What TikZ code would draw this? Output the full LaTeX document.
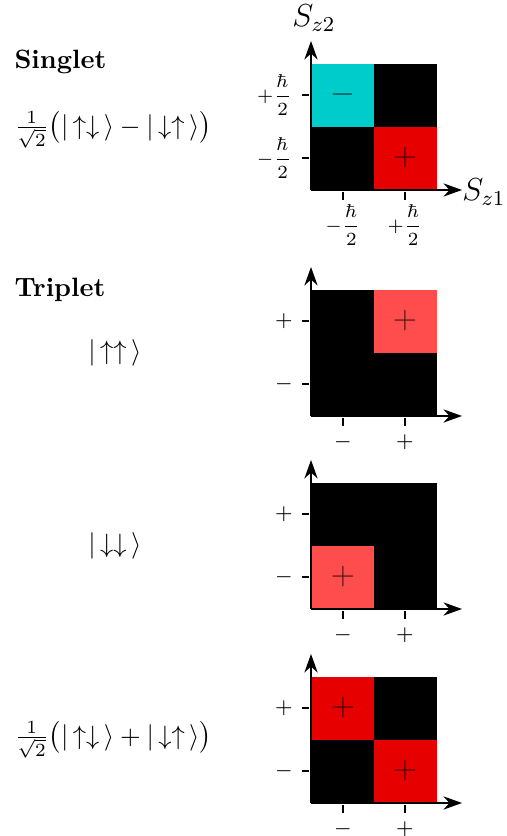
\documentclass[tikz,border=0pt]{standalone}
\usepackage{amsmath}
\usetikzlibrary{arrows.meta}
\definecolor{cellcyan}{RGB}{0,204,204}
\definecolor{cellred}{RGB}{230,0,0}
\definecolor{celllight}{RGB}{255,76,76}
\tikzset{
  axis/.style={line width=0.6pt,-{Stealth[length=7pt,width=5pt]}},
  tick/.style={line width=0.6pt},
  celltext/.style={text=black, text opacity=0.7, font=\large},
  ticklabel/.style={inner sep=1pt, font=\footnotesize},
  hbarlabel/.style={inner sep=1pt, font=\scriptsize},
  lefttext/.style={anchor=west, inner sep=0pt},
}
\newcommand{\spinplot}[6]{%
  % #1 name, #2 origin, #3 colours UL, #4 UR, #5 LL, #6 LR
  \begin{scope}[shift={#2}]
    \fill[#3] (0,63) rectangle (63,126);
    \fill[#4] (63,63) rectangle (126,126);
    \fill[#5] (0,0) rectangle (63,63);
    \fill[#6] (63,0) rectangle (126,63);
    \coordinate (#1o) at (0,0);
    \coordinate (#1x) at (151,0);
    \coordinate (#1y) at (0,149);
    \draw[axis] (#1o) -- (#1x);
    \draw[axis] (#1o) -- (#1y);
    \draw[tick] (32,-2) -- (32,-10);
    \draw[tick] (94,-2) -- (94,-10);
    \draw[tick] (-2,32) -- (-9,32);
    \draw[tick] (-2,95) -- (-9,95);
  \end{scope}}
\begin{document}
\begin{tikzpicture}[x=0.377pt,y=0.377pt]
\useasboundingbox (0,0) rectangle (506,836);
% Singlet
\spinplot{s}{(311,646)}{cellcyan}{black}{black}{cellred}
\node[celltext] (s1) at (311+32,646+95) {$-$};
\node[celltext] (s2) at (311+94,646+32) {$+$};
\node[hbarlabel,anchor=east] (sy1) at (311-16,646+95) {$+\dfrac{\hbar}{2}$};
\node[hbarlabel,anchor=east] (sy2) at (311-16,646+32) {$-\dfrac{\hbar}{2}$};
\node[hbarlabel] (sx1) at (311+32,646-35) {$-\dfrac{\hbar}{2}$};
\node[hbarlabel] (sx2) at (311+94,646-35) {$+\dfrac{\hbar}{2}$};
\node (sz2) at (314,818) {\large $S_{z2}$};
\node (sz1) at (484,644) {\large $S_{z1}$};
\node[lefttext] (singlet) at (14,774) {\bfseries Singlet};
\node[lefttext] (sstate) at (14,706) {$\frac{1}{\sqrt{2}}\big(\lvert\,\uparrow\downarrow\,\rangle - \lvert\,\downarrow\uparrow\,\rangle\big)$};
% Triplet 1
\spinplot{a}{(311,420)}{black}{celllight}{black}{black}
\node[celltext] (a1) at (311+94,420+95) {$+$};
\node[ticklabel] (ay1) at (284,420+95) {$+$};
\node[ticklabel] (ay2) at (284,420+32) {$-$};
\node[ticklabel] (ax1) at (311+32,420-26) {$-$};
\node[ticklabel] (ax2) at (311+94,420-26) {$+$};
\node[lefttext] (triplet) at (14,546) {\bfseries Triplet};
\node (astate) at (115,483) {$\lvert\,\uparrow\uparrow\,\rangle$};
% Triplet 2
\spinplot{b}{(311,227)}{black}{black}{celllight}{black}
\node[celltext] (b1) at (311+32,227+32) {$+$};
\node[ticklabel] (by1) at (284,227+95) {$+$};
\node[ticklabel] (by2) at (284,227+32) {$-$};
\node[ticklabel] (bx1) at (311+32,227-26) {$-$};
\node[ticklabel] (bx2) at (311+94,227-26) {$+$};
\node (bstate) at (115,290) {$\lvert\,\downarrow\downarrow\,\rangle$};
% Triplet 3
\spinplot{c}{(311,33)}{cellred}{black}{black}{cellred}
\node[celltext] (c1) at (311+32,33+95) {$+$};
\node[celltext] (c2) at (311+94,33+32) {$+$};
\node[ticklabel] (cy1) at (284,33+95) {$+$};
\node[ticklabel] (cy2) at (284,33+32) {$-$};
\node[ticklabel] (cx1) at (311+32,33-26) {$-$};
\node[ticklabel] (cx2) at (311+94,33-26) {$+$};
\node[lefttext] (cstate) at (14,96) {$\frac{1}{\sqrt{2}}\big(\lvert\,\uparrow\downarrow\,\rangle + \lvert\,\downarrow\uparrow\,\rangle\big)$};
\end{tikzpicture}
\end{document}
